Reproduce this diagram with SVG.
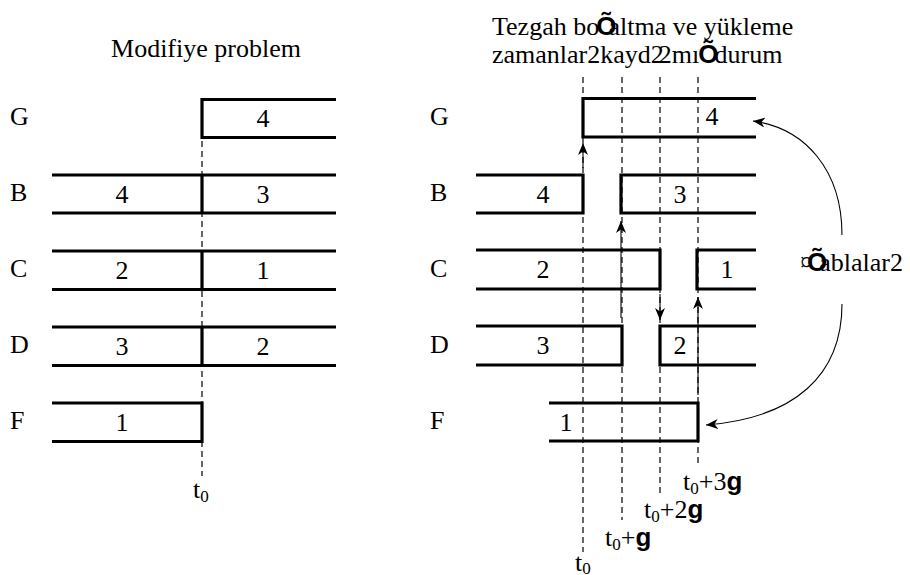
<svg xmlns="http://www.w3.org/2000/svg" width="910" height="575" viewBox="0 0 910 575">
<style>
.num{text-anchor:middle}
.bar{fill:none;stroke:#000;stroke-width:3.2;stroke-linejoin:miter;stroke-linecap:butt}
.dash{fill:none;stroke:#000;stroke-width:1.2;stroke-dasharray:6,4}
.arr{fill:none;stroke:#000;stroke-width:1.1;marker-end:url(#ah)}
.sub{font-size:17px}
.g{font-family:'Liberation Sans',Arial,sans-serif;font-weight:bold}
.ob{font-family:'Liberation Sans',Arial,sans-serif;font-weight:bold}
</style>
<defs>
<marker id="ah" viewBox="0 0 12 10" refX="12" refY="5" markerWidth="12" markerHeight="10" markerUnits="userSpaceOnUse" orient="auto">
<path d="M0,0 L12,5 L0,10 L3.5,5 Z" fill="#000"/>
</marker>
</defs>

<g font-family="'Liberation Serif','Times New Roman',serif" font-size="26" fill="#000">

<!-- titles -->
<text id="title-left" x="206" y="57" class="num">Modifiye problem</text>
<text id="title-right" x="492" y="35">Tezgah bo<tspan class="ob" dx="-3">Õ</tspan><tspan dx="-8">altma ve yükleme</tspan><tspan x="492" y="63">zamanlar2kayd2<tspan dx="-5">2</tspan>mı<tspan class="ob" dx="-1">Õ</tspan><tspan dx="-4">durum</tspan></tspan></text>

<!-- row labels -->
<g id="labels-left">
<text x="10" y="125">G</text>
<text x="10" y="201">B</text>
<text x="10" y="277">C</text>
<text x="10" y="353">D</text>
<text x="10" y="429">F</text>
</g>
<g id="labels-right">
<text x="430" y="125">G</text>
<text x="430" y="201">B</text>
<text x="430" y="277">C</text>
<text x="430" y="353">D</text>
<text x="430" y="429">F</text>
</g>

<!-- guides -->
<g id="guides">
<line class="dash" x1="202" y1="141" x2="202" y2="476"/>
<line class="dash" x1="583" y1="77" x2="583" y2="552"/>
<line class="dash" x1="622" y1="77" x2="622" y2="520"/>
<line class="dash" x1="660" y1="77" x2="660" y2="495"/>
<line class="dash" x1="698" y1="77" x2="698" y2="463"/>
</g>

<!-- left panel -->
<g id="L-G">
<path class="bar" d="M336,99.5 H202 V137.5 H336"/>
<text class="num" x="263" y="127">4</text>
</g>
<g id="L-B">
<path class="bar" d="M52,175 H336 M52,213 H336 M202,175 V213"/>
<text class="num" x="122" y="203">4</text>
<text class="num" x="263" y="203">3</text>
</g>
<g id="L-C">
<path class="bar" d="M52,251 H336 M52,289.5 H336 M202,251 V289.5"/>
<text class="num" x="122" y="279">2</text>
<text class="num" x="263" y="279">1</text>
</g>
<g id="L-D">
<path class="bar" d="M52,327 H336 M52,365.5 H336 M202,327 V365.5"/>
<text class="num" x="122" y="355">3</text>
<text class="num" x="263" y="355">2</text>
</g>
<g id="L-F">
<path class="bar" d="M52,403 H202 V441.5 H52"/>
<text class="num" x="122" y="431">1</text>
</g>
<text id="L-t0" x="193" y="498">t<tspan class="sub" dy="4">0</tspan></text>

<!-- right panel -->
<g id="R-G">
<path class="bar" d="M756,98.5 H583 V137 H756"/>
<text class="num" x="712" y="125">4</text>
</g>
<g id="R-B">
<path class="bar" d="M476,175 H583 V213 H476"/>
<path class="bar" d="M756,175 H621 V213 H756"/>
<text class="num" x="543" y="203">4</text>
<text class="num" x="680" y="203">3</text>
</g>
<g id="R-C">
<path class="bar" d="M476,250 H660 V289 H476"/>
<path class="bar" d="M756,250 H697 V289 H756"/>
<text class="num" x="543" y="278">2</text>
<text class="num" x="727" y="278">1</text>
</g>
<g id="R-D">
<path class="bar" d="M476,326 H622 V365 H476"/>
<path class="bar" d="M756,326 H660 V365 H756"/>
<text class="num" x="543" y="354">3</text>
<text class="num" x="680" y="354">2</text>
</g>
<g id="R-F">
<path class="bar" d="M549,403 H698 V441 H549"/>
<text class="num" x="566" y="431">1</text>
</g>

<!-- connectors -->
<g id="connectors">
<line class="arr" x1="583" y1="168" x2="583" y2="143"/>
<line class="arr" x1="621" y1="318" x2="621" y2="221"/>
<line class="arr" x1="660" y1="294" x2="660" y2="320"/>
<line class="arr" x1="698" y1="395" x2="698" y2="297"/>
<path class="arr" d="M842,235 C842,170 805,128 753,121"/>
<path class="arr" d="M842,304 C842,375 795,418 706,425"/>
</g>
<text id="label-sablonlar" x="800" y="271">¤<tspan class="ob" dx="-6">Õ</tspan><tspan dx="-8">ablalar2</tspan></text>

<!-- time labels -->
<g id="time-labels">
<text x="575" y="571">t<tspan class="sub" dy="3">0</tspan></text>
<text x="605" y="546">t<tspan class="sub" dy="4">0</tspan><tspan dy="-4">+</tspan><tspan class="g">g</tspan></text>
<text x="644" y="518">t<tspan class="sub" dy="4">0</tspan><tspan dy="-4">+2</tspan><tspan class="g">g</tspan></text>
<text x="683" y="490">t<tspan class="sub" dy="4">0</tspan><tspan dy="-4">+3</tspan><tspan class="g">g</tspan></text>
</g>
</g>
</svg>
